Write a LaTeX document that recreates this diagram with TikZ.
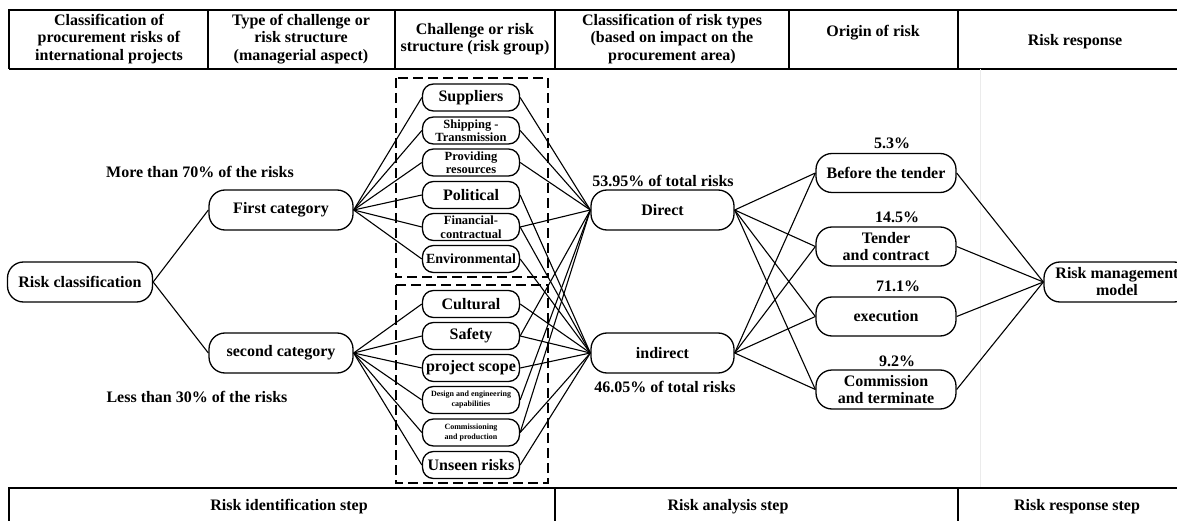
\documentclass[tikz,border=0pt]{standalone}
\usepackage{fontspec}
\setmainfont{Liberation Serif}
\begin{document}
\begin{tikzpicture}[x=1pt,y=-1pt,
  big/.style={draw, line width=1.3pt, rounded corners=16pt, minimum width=144pt, minimum height=40pt, align=center, inner sep=0pt, font=\fontsize{16}{17}\selectfont\bfseries},
  grp/.style={draw, line width=1.3pt, rounded corners=11pt, minimum width=97pt, minimum height=27pt, align=center, inner sep=0pt, font=\fontsize{16}{17}\selectfont\bfseries},
  two/.style={font=\fontsize{12.5}{13.5}\selectfont\bfseries},
  tiny/.style={font=\fontsize{8}{10}\selectfont\bfseries},
  lab/.style={inner sep=0pt, align=center, font=\fontsize{16}{17}\selectfont\bfseries},
  head/.style={inner sep=0pt, align=center, font=\fontsize{16}{17.5}\selectfont\bfseries},
  conn/.style={line width=1.1pt},
  frame/.style={line width=1.2pt},
  grpbox/.style={line width=1.3pt, dash pattern=on 10pt off 5pt}
]
\useasboundingbox (0,0) rectangle (1177,521);

% header table
\draw[frame] (9,69) -- (9,10) -- (1177,10);
\draw[frame] (9,69) -- (1177,69);
\foreach \xx in {208,395,555,789,958} \draw[frame] (\xx,10) -- (\xx,69);
\node[head] (h1) at (109,39) {Classification of\\procurement risks of\\international projects};
\node[head] (h2) at (301,39) {Type of challenge or\\risk structure\\(managerial aspect)};
\node[head] (h3) at (475,39) {Challenge or risk\\structure (risk group)};
\node[head] (h4) at (672,39) {Classification of risk types\\(based on impact on the\\procurement area)};
\node[head] (h5) at (873,33) {Origin of risk};
\node[head] (h6) at (1075,42) {Risk response};

% faint guide line
\draw[black!8, line width=0.8pt] (980,69) -- (980,488);

% bottom table
\draw[frame] (9,521) -- (9,488) -- (1177,488);
\draw[frame] (555,488) -- (555,521);
\draw[frame] (958,488) -- (958,521);
\node[lab] (s1) at (289,507) {Risk identification step};
\node[lab] (s2) at (728,507) {Risk analysis step};
\node[lab] (s3) at (1077,507) {Risk response step};

% dashed group boxes
\draw[grpbox] (396,78) rectangle (548,277);
\draw[grpbox] (396,285) rectangle (548,483);

% left nodes
\node[big, minimum width=145pt] (rc) at (80,282) {Risk classification};
\node[big] (fc) at (281,210) {First category};
\node[big] (sc) at (281,353) {second category};
\node[lab] (more) at (200,172) {More than 70\% of the risks};
\node[lab] (less) at (197,397) {Less than 30\% of the risks};

% risk groups
\node[grp] (g1) at (471,97.5) {Suppliers};
\node[grp, two] (g2) at (471,130.5) {Shipping -\\Transmission};
\node[grp, two] (g3) at (471,162.5) {Providing\\resources};
\node[grp] (g4) at (471,195) {Political};
\node[grp, two] (g5) at (471,227) {Financial-\\contractual};
\node[grp, font=\fontsize{14}{15}\selectfont\bfseries] (g6) at (471,259) {Environmental};
\node[grp] (g7) at (471,304) {Cultural};
\node[grp] (g8) at (471,336) {Safety};
\node[grp] (g9) at (471,368) {project scope};
\node[grp, tiny] (g10) at (471,400) {Design and engineering\\capabilities};
\node[grp, tiny] (g11) at (471,432.5) {Commissioning\\and production};
\node[grp] (g12) at (471,465) {Unseen risks};

% impact nodes
\node[big, minimum width=143pt] (dir) at (662.5,210) {Direct};
\node[big, minimum width=143pt] (ind) at (662.5,353) {indirect};
\node[lab] (dl) at (663,181) {53.95\% of total risks};
\node[lab] (il) at (665,387) {46.05\% of total risks};

% origin nodes
\node[big, minimum width=140pt, minimum height=39pt] (o1) at (886,173) {Before the tender};
\node[big, minimum width=140pt, minimum height=39pt] (o2) at (886,246.5) {Tender\\and contract};
\node[big, minimum width=140pt, minimum height=39pt] (o3) at (886,316.5) {execution};
\node[big, minimum width=140pt, minimum height=39pt] (o4) at (886,389.5) {Commission\\and terminate};
\node[lab] (p1) at (892,143) {5.3\%};
\node[lab] (p2) at (897,217) {14.5\%};
\node[lab] (p3) at (898,286) {71.1\%};
\node[lab] (p4) at (897,361) {9.2\%};

% response node
\node[big, minimum width=146pt] (rm) at (1117,282) {Risk management\\model};

% connectors
\draw[conn] (rc.east) -- (fc.west);
\draw[conn] (rc.east) -- (sc.west);
\foreach \g in {g1,g2,g3,g4,g5,g6} \draw[conn] (fc.east) -- (\g.west);
\foreach \g in {g7,g8,g9,g10,g11,g12} \draw[conn] (sc.east) -- (\g.west);
\foreach \g in {g1,g2,g3,g5,g8,g10,g11} \draw[conn] (\g.east) -- (dir.west);
\foreach \g in {g4,g5,g6,g7,g8,g9,g11,g12} \draw[conn] (\g.east) -- (ind.west);
\foreach \o in {o1,o2,o3,o4} {
  \draw[conn] (dir.east) -- (\o.west);
  \draw[conn] (ind.east) -- (\o.west);
  \draw[conn] (\o.east) -- (rm.west);
}
\end{tikzpicture}
\end{document}
